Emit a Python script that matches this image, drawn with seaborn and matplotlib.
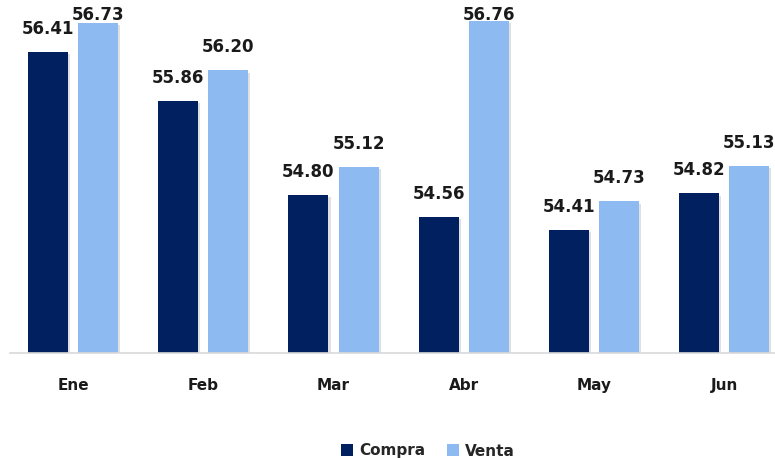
import matplotlib
matplotlib.use("Agg")
import matplotlib.pyplot as plt
import matplotlib.patheffects as pe
from matplotlib.patches import Patch
import seaborn as sns
import pandas as pd

meses = ["Ene", "Feb", "Mar", "Abr", "May", "Jun"]
compra = [56.41, 55.86, 54.80, 54.56, 54.41, 54.82]
venta = [56.73, 56.20, 55.12, 56.76, 54.73, 55.13]
series = ["Compra", "Venta"]
colores = {"Compra": "#002060", "Venta": "#8EBAF2"}

df = pd.DataFrame({
    "mes": meses * 2,
    "tipo": ["Compra"] * len(meses) + ["Venta"] * len(meses),
    "valor": compra + venta,
})

sns.set_theme(style="white")
plt.rcParams["font.family"] = ["DejaVu Sans"]

fig = plt.figure(figsize=(7.75, 4.58), dpi=100)
ax = fig.add_axes([10 / 775, 105 / 458, 765 / 775, 353 / 458])

sns.barplot(data=df, x="mes", y="valor", hue="tipo", palette=colores,
            width=0.77, gap=0.2, ax=ax, legend=False, saturation=1,
            linewidth=0, edgecolor="none")

ymin, ymax = 53.03, 56.99
ax.set_ylim(ymin, ymax)
ax.set_xlim(-0.484, 5.39)

shadow = [pe.SimplePatchShadow(offset=(1.5, -1.5), shadow_rgbFace="#9a9a9a", alpha=0.3), pe.Normal()]
for bar in ax.patches:
    bar.set_linewidth(0)
    bar.set_path_effects(shadow)

# value labels above each bar, kept inside the plotting area
px_per_unit = 353 / (ymax - ymin)
offset = 14 / px_per_unit
cap = ymax - 24 / px_per_unit
for container in ax.containers:
    for bar in container:
        h = bar.get_height()
        xc = bar.get_x() + bar.get_width() / 2
        ax.text(xc, min(h + offset, cap), f"{h:.2f}", ha="center", va="bottom",
                fontsize=12, fontweight="bold", color="#1a1a1a", clip_on=False)

for s in ["top", "right", "left"]:
    ax.spines[s].set_visible(False)
ax.spines["bottom"].set_color("#d9d9d9")
ax.spines["bottom"].set_linewidth(1.2)
ax.set_yticks([])
ax.set_xlabel("")
ax.set_ylabel("")
ax.tick_params(axis="x", length=0, pad=18, labelsize=11)
for lbl in ax.get_xticklabels():
    lbl.set_fontweight("bold")
    lbl.set_color("#1a1a1a")

handles = [Patch(facecolor=colores[s], edgecolor="none", label=s) for s in series]
fig.legend(handles=handles, loc="center", bbox_to_anchor=(428 / 775, 1 - 451 / 458),
           ncol=2, frameon=False, prop={"weight": "bold", "size": 11},
           handlelength=0.8, handleheight=0.8, handletextpad=0.4, columnspacing=1.4)

fig.savefig("out.png", dpi=100, facecolor="white")
